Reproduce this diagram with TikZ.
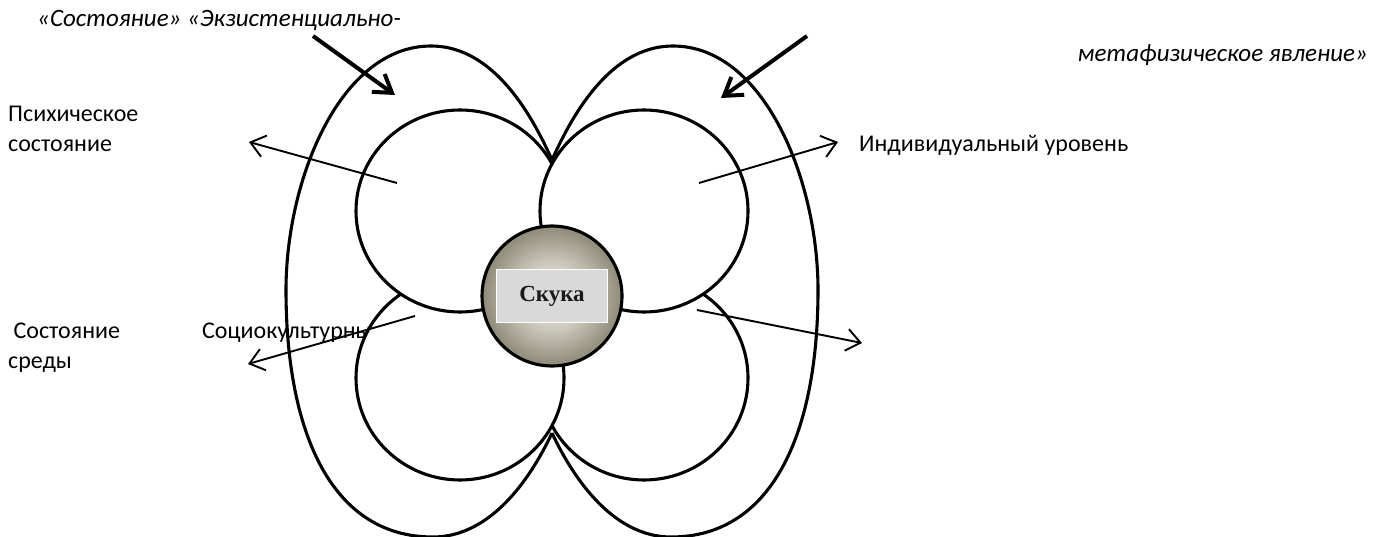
\documentclass[tikz,border=0pt]{standalone}
\usepackage{fontspec}
\setmainfont{Carlito}
\newfontfamily\timesfont{Liberation Serif}
\usetikzlibrary{arrows.meta}
\definecolor{sphdark}{RGB}{78,73,54}
\definecolor{sphmid}{RGB}{108,103,82}
\definecolor{sphlight}{RGB}{236,234,224}
\definecolor{rectgray}{RGB}{217,217,217}
\pgfdeclareradialshading{skukashade}{\pgfpoint{0bp}{0bp}}{color(0bp)=(sphlight); color(12bp)=(sphlight!75!sphmid); color(32bp)=(sphmid); color(50bp)=(sphdark)}
\tikzset{
  bigline/.style={line width=3.1pt},
  petal/.style={line width=3.1pt, draw=black, fill=white},
  thinarrow/.style={line width=1.9pt, -{Straight Barb[length=14pt,width=22pt]}},
  thickarrow/.style={line width=4pt, -{Straight Barb[length=17pt,width=22pt]}},
  lbl/.style={font=\fontsize{24}{29}\selectfont, inner sep=0pt, anchor=base west},
  itl/.style={font=\fontsize{25}{30}\selectfont\itshape, inner sep=0pt},
}
\begin{document}
\begin{tikzpicture}[x=1pt,y=-1pt]
\path[use as bounding box, fill=white] (0,0) rectangle (1383,537);

% big outer petals
\draw[bigline] (552,160) .. controls (520,88) and (480,46) .. (431,46)
  .. controls (340,46) and (286,180) .. (286,290)
  .. controls (286,430) and (330,537) .. (433,537)
  .. controls (490,537) and (530,480) .. (552,433);
\draw[bigline] (552,160) .. controls (584,88) and (624,46) .. (673,46)
  .. controls (764,46) and (818,180) .. (818,290)
  .. controls (818,430) and (774,537) .. (671,537)
  .. controls (614,537) and (574,480) .. (552,433);

% labels
\node[itl, anchor=base west] (title) at (37,27) {«Состояние» «Экзистенциально-};
\node[itl, anchor=base east] (meta) at (1368,62) {метафизическое явление»};
\node[lbl] (psy1) at (8,122) {Психическое};
\node[lbl] (psy2) at (8,152) {состояние};
\node[lbl] (ind) at (859,152) {Индивидуальный уровень};
\node[lbl] (sr1) at (8,338) {\ Состояние};
\node[lbl] (sr2) at (8,368) {среды};
\node[lbl] (soc) at (202,338) {Социокультурный уровень};

% inner circles
\path[petal] (644,378) circle[x radius=104pt, y radius=102pt];
\path[petal] (460,378) circle[x radius=104pt, y radius=102pt];
\path[petal] (460,211) circle[x radius=104pt, y radius=101pt];
\path[petal] (644,211) circle[x radius=104pt, y radius=101pt];

% central sphere
\path[shading=skukashade] (552,296) circle[radius=70pt];
\draw[line width=3.1pt] (552,296) circle[radius=70pt];
\node[draw=white, line width=1.5pt, fill=rectgray, minimum width=111pt, minimum height=53pt, inner sep=0pt,
      font=\timesfont\bfseries\fontsize{23}{27}\selectfont, text=black!90] (sk) at (552,296) {Скука};

% arrows
\coordinate (a1s) at (313,36);  \coordinate (a1e) at (395,95);
\coordinate (a2s) at (807,36);  \coordinate (a2e) at (721,98);
\coordinate (psys) at (397,183); \coordinate (psye) at (249,142);
\coordinate (inds) at (699,183); \coordinate (inde) at (838,142);
\coordinate (socs) at (415,316); \coordinate (soce) at (248,364);
\coordinate (rbs) at (697,310);  \coordinate (rbe) at (862,343);
\draw[thickarrow] (a1s) -- (a1e);
\draw[thickarrow] (a2s) -- (a2e);
\draw[thinarrow] (psys) -- (psye);
\draw[thinarrow] (inds) -- (inde);
\draw[thinarrow] (socs) -- (soce);
\draw[thinarrow] (rbs) -- (rbe);
\end{tikzpicture}
\end{document}
